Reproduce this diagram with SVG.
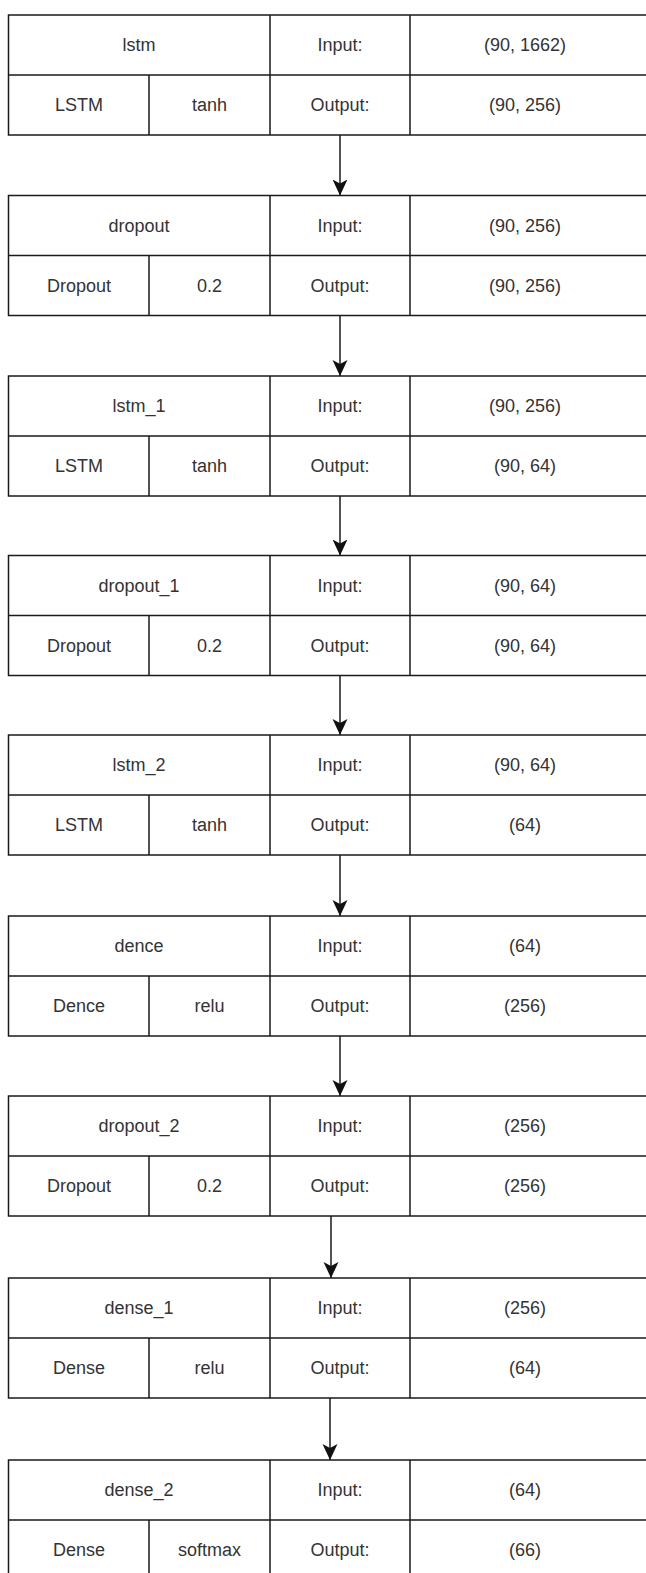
<svg xmlns="http://www.w3.org/2000/svg" width="646" height="1573" viewBox="0 0 646 1573">
<style>
.box{fill:#fff;stroke:#1a1a1a;stroke-width:1.5}
.ln{stroke:#1a1a1a;stroke-width:1.5;fill:none}
.t{font-family:"Liberation Sans",Arial,sans-serif;font-size:18px;fill:#333;text-anchor:middle;dominant-baseline:central}
.c{stroke:#1a1a1a;stroke-width:1.5;fill:none;marker-end:url(#arr)}
</style>
<defs>
<marker id="arr" markerWidth="16" markerHeight="16" refX="16" refY="8" orient="auto" markerUnits="userSpaceOnUse"><path d="M0,0.5 L16,8 L0,15.5 L4,8 Z" fill="#111"/></marker>
<g id="frame">
<rect class="box" x="8.5" y="0" width="645" height="120"/>
<path class="ln" d="M8.5,60 H653 M149,60 V120 M270,0 V120 M410,0 V120"/>
</g>
</defs>
<rect width="646" height="1573" fill="#fff"/>
<g id="connectors">
<line class="c" x1="340" y1="135" x2="340" y2="195.5"/>
<line class="c" x1="340" y1="315.5" x2="340" y2="376"/>
<line class="c" x1="340" y1="496" x2="340" y2="555.5"/>
<line class="c" x1="340" y1="675.5" x2="340" y2="735"/>
<line class="c" x1="340" y1="855" x2="340" y2="916"/>
<line class="c" x1="340" y1="1036" x2="340" y2="1096"/>
<line class="c" x1="331" y1="1216" x2="331" y2="1278"/>
<line class="c" x1="330" y1="1398" x2="330" y2="1460"/>
</g>
<g id="lstm" transform="translate(0,15)">
<use href="#frame"/>
<text class="t" x="139" y="30">lstm</text><text class="t" x="340" y="30">Input:</text><text class="t" x="525" y="30">(90, 1662)</text>
<text class="t" x="79" y="90">LSTM</text><text class="t" x="209.5" y="90">tanh</text><text class="t" x="340" y="90">Output:</text><text class="t" x="525" y="90">(90, 256)</text>
</g>
<g id="dropout" transform="translate(0,195.5)">
<use href="#frame"/>
<text class="t" x="139" y="30">dropout</text><text class="t" x="340" y="30">Input:</text><text class="t" x="525" y="30">(90, 256)</text>
<text class="t" x="79" y="90">Dropout</text><text class="t" x="209.5" y="90">0.2</text><text class="t" x="340" y="90">Output:</text><text class="t" x="525" y="90">(90, 256)</text>
</g>
<g id="lstm_1" transform="translate(0,376)">
<use href="#frame"/>
<text class="t" x="139" y="30">lstm_1</text><text class="t" x="340" y="30">Input:</text><text class="t" x="525" y="30">(90, 256)</text>
<text class="t" x="79" y="90">LSTM</text><text class="t" x="209.5" y="90">tanh</text><text class="t" x="340" y="90">Output:</text><text class="t" x="525" y="90">(90, 64)</text>
</g>
<g id="dropout_1" transform="translate(0,555.5)">
<use href="#frame"/>
<text class="t" x="139" y="30">dropout_1</text><text class="t" x="340" y="30">Input:</text><text class="t" x="525" y="30">(90, 64)</text>
<text class="t" x="79" y="90">Dropout</text><text class="t" x="209.5" y="90">0.2</text><text class="t" x="340" y="90">Output:</text><text class="t" x="525" y="90">(90, 64)</text>
</g>
<g id="lstm_2" transform="translate(0,735)">
<use href="#frame"/>
<text class="t" x="139" y="30">lstm_2</text><text class="t" x="340" y="30">Input:</text><text class="t" x="525" y="30">(90, 64)</text>
<text class="t" x="79" y="90">LSTM</text><text class="t" x="209.5" y="90">tanh</text><text class="t" x="340" y="90">Output:</text><text class="t" x="525" y="90">(64)</text>
</g>
<g id="dence" transform="translate(0,916)">
<use href="#frame"/>
<text class="t" x="139" y="30">dence</text><text class="t" x="340" y="30">Input:</text><text class="t" x="525" y="30">(64)</text>
<text class="t" x="79" y="90">Dence</text><text class="t" x="209.5" y="90">relu</text><text class="t" x="340" y="90">Output:</text><text class="t" x="525" y="90">(256)</text>
</g>
<g id="dropout_2" transform="translate(0,1096)">
<use href="#frame"/>
<text class="t" x="139" y="30">dropout_2</text><text class="t" x="340" y="30">Input:</text><text class="t" x="525" y="30">(256)</text>
<text class="t" x="79" y="90">Dropout</text><text class="t" x="209.5" y="90">0.2</text><text class="t" x="340" y="90">Output:</text><text class="t" x="525" y="90">(256)</text>
</g>
<g id="dense_1" transform="translate(0,1278)">
<use href="#frame"/>
<text class="t" x="139" y="30">dense_1</text><text class="t" x="340" y="30">Input:</text><text class="t" x="525" y="30">(256)</text>
<text class="t" x="79" y="90">Dense</text><text class="t" x="209.5" y="90">relu</text><text class="t" x="340" y="90">Output:</text><text class="t" x="525" y="90">(64)</text>
</g>
<g id="dense_2" transform="translate(0,1460)">
<use href="#frame"/>
<text class="t" x="139" y="30">dense_2</text><text class="t" x="340" y="30">Input:</text><text class="t" x="525" y="30">(64)</text>
<text class="t" x="79" y="90">Dense</text><text class="t" x="209.5" y="90">softmax</text><text class="t" x="340" y="90">Output:</text><text class="t" x="525" y="90">(66)</text>
</g>
</svg>
